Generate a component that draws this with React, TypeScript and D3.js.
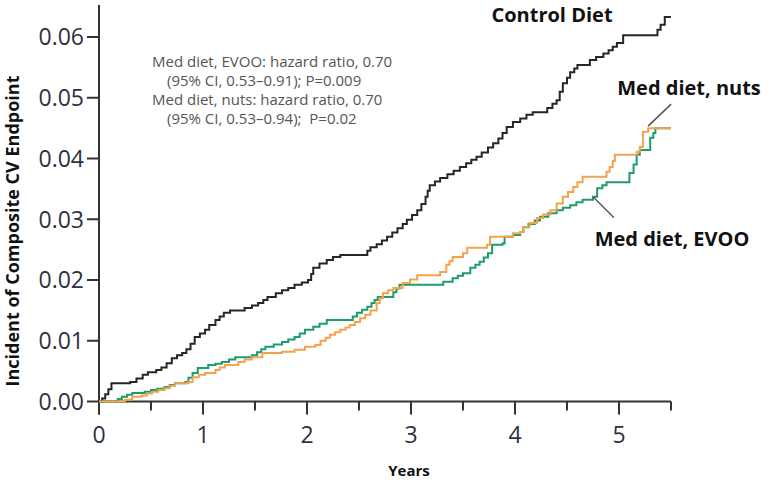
import React from "react";
import * as d3 from "d3";

const W = 773;
const H = 483;

const xTicks = [0, 1, 2, 3, 4, 5];
const xMinorTicks = [0.5, 1.5, 2.5, 3.5, 4.5, 5.5];
const yTicks = [0, 0.01, 0.02, 0.03, 0.04, 0.05, 0.06];

const controlDiet: [number, number][] = [
  [0, 0], [0.03, 0.0005], [0.06, 0.0012], [0.09, 0.002], [0.12, 0.003], [0.3, 0.0032], [0.36, 0.0038],
  [0.42, 0.0044], [0.47, 0.0048], [0.55, 0.0052], [0.6, 0.0056], [0.65, 0.0063], [0.7, 0.0071],
  [0.75, 0.0076], [0.8, 0.008], [0.84, 0.0086], [0.88, 0.0095], [0.92, 0.0106], [0.97, 0.0112],
  [1.02, 0.0118], [1.06, 0.0126], [1.12, 0.0134], [1.16, 0.014], [1.2, 0.0146], [1.26, 0.015],
  [1.4, 0.0154], [1.47, 0.0158], [1.53, 0.0162], [1.58, 0.0167], [1.62, 0.0172], [1.7, 0.0178],
  [1.76, 0.0183], [1.82, 0.0187], [1.88, 0.0192], [1.95, 0.0196], [2.01, 0.02], [2.04, 0.021],
  [2.06, 0.022], [2.12, 0.0227], [2.19, 0.0233], [2.25, 0.0238], [2.32, 0.0241], [2.58, 0.0248],
  [2.61, 0.0254], [2.67, 0.0259], [2.72, 0.0265], [2.77, 0.0271], [2.82, 0.0278], [2.87, 0.0285],
  [2.92, 0.0292], [2.96, 0.0299], [3.01, 0.0307], [3.06, 0.0315], [3.1, 0.0325], [3.14, 0.0337],
  [3.16, 0.0347], [3.18, 0.0356], [3.23, 0.0362], [3.28, 0.0368], [3.35, 0.0374], [3.41, 0.038],
  [3.47, 0.0386], [3.53, 0.0392], [3.58, 0.0398], [3.63, 0.0403], [3.68, 0.041], [3.74, 0.0418],
  [3.79, 0.0425], [3.84, 0.0433], [3.88, 0.0442], [3.92, 0.0452], [3.98, 0.046], [4.05, 0.0466],
  [4.11, 0.0472], [4.17, 0.0476], [4.31, 0.0483], [4.36, 0.049], [4.4, 0.0496], [4.43, 0.051],
  [4.46, 0.0524], [4.5, 0.0533], [4.53, 0.0542], [4.57, 0.0548], [4.6, 0.0554], [4.72, 0.0562],
  [4.78, 0.0567], [4.85, 0.0573], [4.9, 0.0578], [4.94, 0.0584], [4.98, 0.059], [5.04, 0.0603],
  [5.37, 0.0612], [5.4, 0.062], [5.44, 0.0633], [5.5, 0.0633],
];

const medDietEVOO: [number, number][] = [
  [0, 0], [0.18, 0.0004], [0.22, 0.0008], [0.27, 0.0011], [0.32, 0.0014], [0.44, 0.0016], [0.5, 0.0019],
  [0.56, 0.0021], [0.63, 0.0024], [0.68, 0.0027], [0.73, 0.003], [0.83, 0.0032], [0.86, 0.0039],
  [0.9, 0.0047], [0.95, 0.0055], [1.05, 0.006], [1.12, 0.0062], [1.18, 0.0065], [1.25, 0.0069],
  [1.31, 0.0073], [1.47, 0.0076], [1.52, 0.0081], [1.56, 0.0086], [1.6, 0.009], [1.68, 0.0094],
  [1.76, 0.0098], [1.82, 0.0102], [1.88, 0.0106], [1.93, 0.0112], [1.98, 0.0118], [2.06, 0.0123],
  [2.12, 0.0128], [2.19, 0.0134], [2.44, 0.014], [2.48, 0.0146], [2.53, 0.0151], [2.58, 0.0156],
  [2.62, 0.0162], [2.65, 0.0167], [2.68, 0.0172], [2.83, 0.018], [2.86, 0.0186], [2.89, 0.0192],
  [3.31, 0.0197], [3.4, 0.0203], [3.45, 0.0207], [3.5, 0.0211], [3.57, 0.022], [3.62, 0.0225],
  [3.66, 0.023], [3.7, 0.0237], [3.74, 0.0244], [3.78, 0.0258], [3.88, 0.026], [3.9, 0.0271],
  [3.98, 0.0274], [4.05, 0.0279], [4.08, 0.0287], [4.13, 0.0292], [4.19, 0.0298], [4.24, 0.0304],
  [4.32, 0.031], [4.4, 0.0315], [4.46, 0.0319], [4.53, 0.0323], [4.59, 0.0328], [4.65, 0.0332],
  [4.75, 0.0337], [4.79, 0.0351], [4.84, 0.0356], [4.88, 0.0361], [5.1, 0.0376], [5.14, 0.039],
  [5.17, 0.0406], [5.2, 0.0414], [5.3, 0.0434], [5.33, 0.0442], [5.35, 0.045], [5.5, 0.045],
];

const medDietNuts: [number, number][] = [
  [0, 0], [0.2, 0.0001], [0.25, 0.0003], [0.32, 0.0008], [0.41, 0.001], [0.46, 0.0013], [0.51, 0.0016],
  [0.57, 0.0019], [0.63, 0.0022], [0.68, 0.0026], [0.73, 0.003], [0.86, 0.0032], [0.9, 0.004],
  [0.96, 0.0044], [1.02, 0.0047], [1.12, 0.0052], [1.16, 0.0056], [1.21, 0.006], [1.34, 0.0065],
  [1.4, 0.0069], [1.47, 0.0073], [1.57, 0.008], [1.76, 0.0082], [1.88, 0.0085], [1.98, 0.009],
  [2.08, 0.0093], [2.13, 0.01], [2.18, 0.0105], [2.22, 0.011], [2.27, 0.0114], [2.32, 0.0118],
  [2.37, 0.0122], [2.41, 0.0126], [2.46, 0.0131], [2.51, 0.0137], [2.56, 0.0143], [2.61, 0.015],
  [2.67, 0.0162], [2.7, 0.017], [2.73, 0.0178], [2.78, 0.0183], [2.83, 0.0187], [2.92, 0.0195],
  [2.99, 0.0201], [3.06, 0.0208], [3.28, 0.0213], [3.34, 0.0225], [3.37, 0.0231], [3.4, 0.0238],
  [3.5, 0.0244], [3.54, 0.0253], [3.73, 0.0258], [3.76, 0.0271], [3.98, 0.0277], [4.05, 0.0279],
  [4.08, 0.0287], [4.14, 0.0294], [4.21, 0.0302], [4.27, 0.0308], [4.34, 0.0315], [4.4, 0.0326],
  [4.46, 0.0337], [4.51, 0.0345], [4.56, 0.0353], [4.6, 0.0361], [4.65, 0.037], [4.88, 0.0378],
  [4.91, 0.0386], [4.94, 0.0396], [4.96, 0.0406], [5.17, 0.0411], [5.2, 0.0419], [5.23, 0.0444],
  [5.28, 0.045], [5.5, 0.045],
];

const annotationLines = [
  { text: "Med diet, EVOO: hazard ratio, 0.70", indent: 0 },
  { text: "(95% CI, 0.53\u20130.91); P=0.009", indent: 1 },
  { text: "Med diet, nuts: hazard ratio, 0.70", indent: 0 },
  { text: "(95% CI, 0.53\u20130.94);  P=0.02", indent: 1 },
];

const seriesLabels = {
  control: "Control Diet",
  nuts: "Med diet, nuts",
  evoo: "Med diet, EVOO",
};

const axisColor = "#333";
const tickTextColor = "#2e3140";
const FONT = "'Open Sans', 'Noto Sans', sans-serif";

export default function App() {
  const x = d3.scaleLinear().domain([0, 5.5]).range([99, 671]);
  const y = d3.scaleLinear().domain([0, 0.06]).range([401.5, 37]);
  const line = d3
    .line<[number, number]>()
    .x((d) => x(d[0]))
    .y((d) => y(d[1]))
    .curve(d3.curveStepAfter);

  const series = [
    { data: controlDiet, color: "#262626" },
    { data: medDietEVOO, color: "#1d9c6c" },
    { data: medDietNuts, color: "#f5a24c" },
  ];

  const x0 = x(0);
  const y0 = y(0);

  return (
    <svg
      width={W}
      height={H}
      style={{ position: "absolute", left: 0, top: 0, background: "#fff" }}
      fontFamily={FONT}
    >
      <rect x={0} y={0} width={W} height={H} fill="#fff" />
      {/* axes */}
      <line x1={x0} x2={x0} y1={5} y2={y0 + 13} stroke={axisColor} strokeWidth={2} />
      <line x1={x0} x2={x(5.5)} y1={y0} y2={y0} stroke={axisColor} strokeWidth={2} />
      {yTicks.map((t) => (
        <g key={"y" + t}>
          <line x1={x0 - 12} x2={x0} y1={y(t)} y2={y(t)} stroke={axisColor} strokeWidth={2} />
          <text
            x={x0 - 15}
            y={y(t)}
            dy="0.36em"
            textAnchor="end"
            fontSize={23}
            fill={tickTextColor}
          >
            {t.toFixed(2)}
          </text>
        </g>
      ))}
      {xTicks.map((t) => (
        <g key={"x" + t}>
          <line x1={x(t)} x2={x(t)} y1={y0} y2={y0 + 13} stroke={axisColor} strokeWidth={2} />
          <text x={x(t)} y={y0 + 41} textAnchor="middle" fontSize={23} fill={tickTextColor}>
            {t}
          </text>
        </g>
      ))}
      {xMinorTicks.map((t) => (
        <line key={"m" + t} x1={x(t)} x2={x(t)} y1={y0} y2={y0 + 9} stroke={axisColor} strokeWidth={2} />
      ))}

      {/* curves */}
      {series.map((s, i) => (
        <path key={i} d={line(s.data) || ""} fill="none" stroke={s.color} strokeWidth={2} />
      ))}

      {/* axis titles */}
      <text
        transform={`translate(19, 231) rotate(-90)`}
        textAnchor="middle"
        fontSize={18}
        fontWeight={700}
        fill="#111"
      >
        Incident of Composite CV Endpoint
      </text>
      <text x={409} y={476} textAnchor="middle" fontSize={15} fontWeight={700} fill="#111">
        Years
      </text>

      {/* annotation */}
      {annotationLines.map((l, i) => (
        <text
          key={"a" + i}
          x={152 + l.indent * 15}
          y={67 + i * 19}
          fontSize={15}
          fill="#555"
          style={{ whiteSpace: "pre" }}
        >
          {l.text}
        </text>
      ))}

      {/* series labels */}
      <text x={552} y={22} textAnchor="middle" fontSize={20} fontWeight={700} fill="#111">
        {seriesLabels.control}
      </text>
      <text x={689} y={95} textAnchor="middle" fontSize={20} fontWeight={700} fill="#111">
        {seriesLabels.nuts}
      </text>
      <text x={672} y={246} textAnchor="middle" fontSize={20} fontWeight={700} fill="#111">
        {seriesLabels.evoo}
      </text>
      <line x1={x(5.28)} y1={y(0.045) - 2} x2={x(5.28) + 23} y2={y(0.045) - 24} stroke="#555" strokeWidth={1.5} />
      <line x1={x(4.75)} y1={y(0.0337)} x2={x(4.75) + 21} y2={y(0.0337) + 21} stroke="#555" strokeWidth={1.5} />
    </svg>
  );
}
